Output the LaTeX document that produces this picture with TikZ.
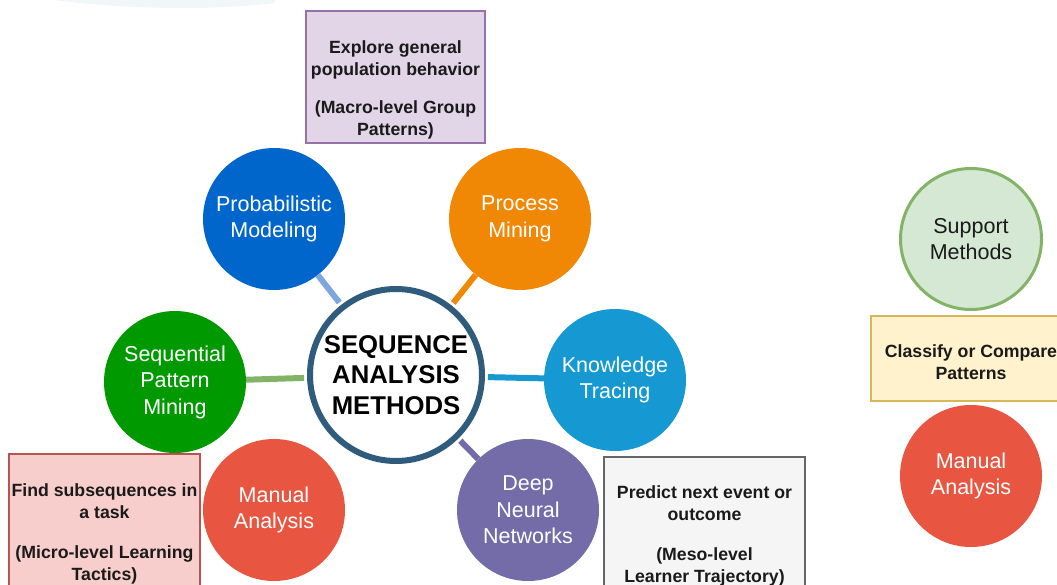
\documentclass[tikz,border=0pt]{standalone}
\usepackage{fontspec}
\setmainfont{Liberation Sans}
\definecolor{bleuF}{HTML}{0066CC}
\definecolor{bleuC}{HTML}{7EA6E0}
\definecolor{orange}{HTML}{F08705}
\definecolor{cyan}{HTML}{1699D3}
\definecolor{violet}{HTML}{736CA8}
\definecolor{vert}{HTML}{009900}
\definecolor{vertC}{HTML}{82B366}
\definecolor{vertF}{HTML}{D5E8D4}
\definecolor{rouge}{HTML}{E85642}
\definecolor{marine}{HTML}{2F5B7C}
\definecolor{encre}{HTML}{1A1A1A}
\definecolor{lilasB}{HTML}{9673A6}
\definecolor{lilasF}{HTML}{E1D5E7}
\definecolor{roseB}{HTML}{B85450}
\definecolor{roseF}{HTML}{F8CECC}
\definecolor{grisB}{HTML}{666666}
\definecolor{grisF}{HTML}{F5F5F5}
\definecolor{jauneB}{HTML}{D6B656}
\definecolor{jauneF}{HTML}{FFF2CC}
\definecolor{pale}{HTML}{F1F6F8}

\begin{document}
\begin{tikzpicture}[x=1pt,y=-1pt]
    \tikzstyle{lien}=[line width=6pt,shorten <=3pt]
    \tikzstyle{texte}=[align=center,text=encre,font=\bfseries\fontsize{17.7}{22}\selectfont]
\tikzset{methode/.style={circle,fill=#1,text=white,minimum size=142pt,inner sep=0pt,
align=center,font=\fontsize{21.5}{26.5}\selectfont}}
\tikzset{cadre/.style n args={4}{draw=#1,fill=#2,line width=1.5pt,minimum width=#3,minimum height=#4,inner sep=0pt}}
\useasboundingbox (0,0) rectangle (1057,585);
\clip (0,0) rectangle (1057,585);

% trace pale en haut
\fill[color=pale] (55,0) .. controls (120,9) and (210,11) .. (275,3) -- (275,0) -- cycle;

% cadres des niveaux
\node[cadre={lilasB}{lilasF}{179pt}{132pt}] (macro) at (395.5,77){};
\node[texte] (macroT) at (395.5,90){Explore general\\population behavior\\[16pt](Macro-level Group\\Patterns)};
\node[cadre={roseB}{roseF}{191pt}{150pt}] (micro) at (104.5,529){};
\node[texte] (microT) at (104.5,534){Find subsequences in\\a task\\[18pt](Micro-level Learning\\Tactics)};
\node[cadre={grisB}{grisF}{201pt}{150pt}] (meso) at (704.5,532){};
\node[texte] (mesoT) at (704.5,536){Predict next event or\\outcome\\[18pt](Meso-level\\Learner Trajectory)};
\node[cadre={jauneB}{jauneF}{200pt}{85pt}] (classe) at (971,358.5){};
\node[texte] (classeT) at (971,362){Classify or Compare\\Patterns};

% centre et methodes
\node[circle,draw=marine,line width=6pt,fill=white,minimum size=172pt,inner sep=0pt,align=center,
font=\bfseries\fontsize{25.7}{30.5}\selectfont] (C) at (396,375){SEQUENCE\\ANALYSIS\\METHODS};
\node[methode=bleuF] (P) at (274,219){Probabilistic\\Modeling};
\node[methode=orange] (M) at (520,219){Process\\Mining};
\node[methode=cyan] (K) at (615,380){Knowledge\\Tracing};
\node[methode=violet] (D) at (528,510){Deep\\Neural\\Networks};
\node[methode=vert] (S) at (175,382){Sequential\\Pattern\\Mining};
\node[methode=rouge] (A) at (274,510){Manual\\Analysis};

\draw[lien,bleuC] (C) -- (P);
\draw[lien,orange] (C) -- (M);
\draw[lien,cyan] (C) -- (K);
\draw[lien,violet] (C) -- (D);
\draw[lien,vertC] (C) -- (S);

% legende a droite
\node[circle,draw=vertC,line width=3pt,fill=vertF,text=encre,minimum size=141pt,inner sep=0pt,
align=center,font=\fontsize{21.5}{26.5}\selectfont] (sup) at (971,239){Support\\Methods};
\node[methode=rouge] (A2) at (971,476){Manual\\Analysis};

  \end{tikzpicture}
\end{document}
